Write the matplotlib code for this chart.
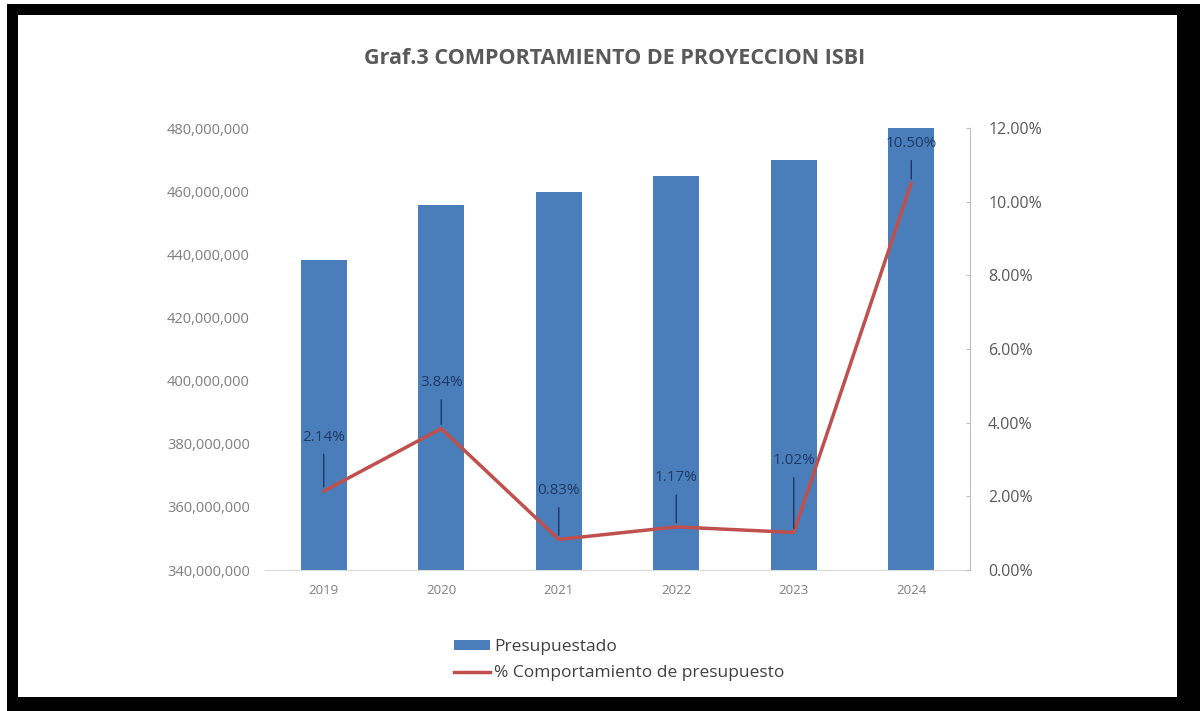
import matplotlib.pyplot as plt
from matplotlib.patches import Rectangle
from matplotlib.ticker import FuncFormatter, PercentFormatter

# budget per year and year-on-year change
years = ["2019", "2020", "2021", "2022", "2023", "2024"]
presupuestado = [438.2e6, 455.6e6, 459.7e6, 464.8e6, 469.9e6, 480.0e6]
comportamiento = [2.14, 3.84, 0.83, 1.17, 1.02, 10.50]
label_offsets = [54, 46, 49, 49, 72, 40]  # label height above each point, px

bar_color = "#4A7EBB"
line_color = "#C0504D"
label_color = "#1F3864"
tick_color = "#7F7F7F"

plt.rcParams["font.family"] = ["Open Sans", "DejaVu Sans"]

fig = plt.figure(figsize=(12, 7.11), dpi=100)
W, H = 1200, 711

# black frame round the sheet
fig.patches.append(Rectangle((7 / W, 0), 1 - 7 / W, 1 - 4 / H, transform=fig.transFigure,
                             facecolor="black", edgecolor="none", zorder=-2))
fig.patches.append(Rectangle((18 / W, 14 / H), (1177 - 18) / W, (697 - 15) / H,
                             transform=fig.transFigure, facecolor="white",
                             edgecolor="none", zorder=-1))

ax = fig.add_axes([265 / W, 1 - 570 / H, (970 - 265) / W, (570 - 128) / H])
ax.patch.set_alpha(0)
x = range(len(years))
bars = ax.bar(x, presupuestado, width=0.39, color=bar_color, label="Presupuestado", zorder=2)
ax.set_ylim(340e6, 480e6)
ax.set_yticks([340e6 + 20e6 * i for i in range(8)])
ax.yaxis.set_major_formatter(FuncFormatter(lambda v, p: f"{v:,.0f}"))
ax.set_xlim(-0.5, len(years) - 0.5)
ax.set_xticks(list(x))
ax.set_xticklabels(years)
for s in ["top", "left", "right"]:
    ax.spines[s].set_visible(False)
ax.spines["bottom"].set_color("#D9D9D9")
ax.tick_params(axis="y", length=0, pad=11, labelsize=10.5, labelcolor=tick_color)
ax.tick_params(axis="x", length=0, pad=10, labelsize=9.5, labelcolor=tick_color)

ax2 = ax.twinx()
line, = ax2.plot(x, comportamiento, color=line_color, lw=2.5,
                 label="% Comportamiento de presupuesto", zorder=3)
ax2.set_ylim(0, 12)
ax2.set_yticks(range(0, 13, 2))
ax2.yaxis.set_major_formatter(PercentFormatter(decimals=2))
for s in ["top", "left", "bottom"]:
    ax2.spines[s].set_visible(False)
ax2.spines["right"].set_color("#BFBFBF")
ax2.tick_params(axis="y", direction="in", length=3, color="#BFBFBF", pad=13,
                labelsize=11.5, labelcolor="#595959")

for i, (v, off) in enumerate(zip(comportamiento, label_offsets)):
    ax2.annotate(f"{v:.2f}%", xy=(i, v), xytext=(0, off), textcoords="offset pixels",
                 ha="center", va="center", fontsize=11, color=label_color,
                 arrowprops=dict(arrowstyle="-", color=label_color, lw=1,
                                 shrinkA=5, shrinkB=3))

fig.text(615 / W, 1 - 59 / H, "Graf.3 COMPORTAMIENTO DE PROYECCION ISBI", ha="center",
         va="center", fontsize=15.5, fontweight="bold", color="#595959")

fig.legend([bars, line], ["Presupuestado", "% Comportamiento de presupuesto"],
           loc="upper left", bbox_to_anchor=(447 / W, 1 - 632 / H), frameon=False,
           fontsize=12.5, labelcolor="#404040", handlelength=2.1, handleheight=0.5,
           labelspacing=0.6, handletextpad=0.2, borderaxespad=0)

fig.savefig("out.png", dpi=100)
